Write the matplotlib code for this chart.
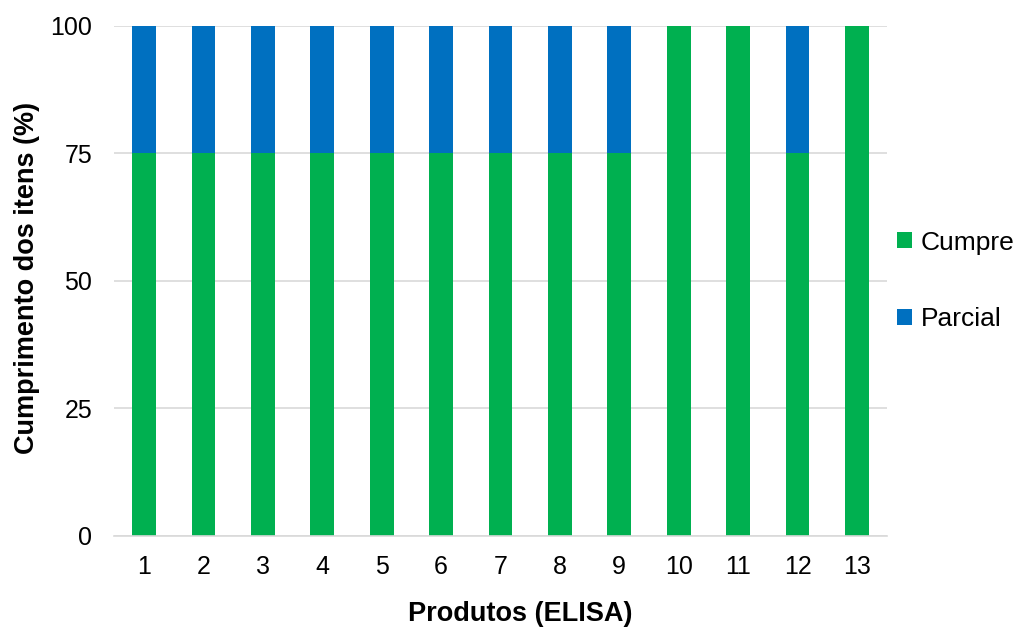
import numpy as np
import matplotlib.pyplot as plt

plt.rcParams['font.family'] = ['Liberation Sans', 'DejaVu Sans']

# Compliance of items per ELISA product
produtos = ['1', '2', '3', '4', '5', '6', '7', '8', '9', '10', '11', '12', '13']
cumpre = [75, 75, 75, 75, 75, 75, 75, 75, 75, 100, 100, 75, 100]
parcial = [25, 25, 25, 25, 25, 25, 25, 25, 25, 0, 0, 25, 0]

fig = plt.figure(figsize=(10.16, 6.29), dpi=100)
ax = fig.add_axes([0.1125, 0.148, 0.7602, 0.8108])

x = np.arange(len(produtos))
ax.bar(x, cumpre, width=0.4, color='#00B050', label='Cumpre', zorder=2)
ax.bar(x, parcial, width=0.4, bottom=cumpre, color='#0070C0', label='Parcial', zorder=2)

ax.set_xlim(-0.5, len(produtos) - 0.5)
ax.set_ylim(0, 100)
ax.set_yticks([0, 25, 50, 75, 100])
ax.set_xticks(x)
ax.set_xticklabels(produtos)
ax.tick_params(axis='both', length=0, labelsize=18, colors='#000000')
ax.tick_params(axis='x', pad=14)
ax.tick_params(axis='y', pad=16)
ax.grid(axis='y', color='#D9D9D9', linewidth=1.2, zorder=0)
for s in ['top', 'right', 'left']:
    ax.spines[s].set_visible(False)
ax.spines['bottom'].set_color('#D9D9D9')
ax.spines['bottom'].set_linewidth(1.2)

ax.set_xlabel('Produtos (ELISA)', fontsize=19.5, fontweight='bold')
ax.set_ylabel('Cumprimento dos itens (%)', fontsize=19.5, fontweight='bold')
ax.xaxis.set_label_coords(0.525, -0.128)
ax.yaxis.set_label_coords(-0.096, 0.505)

ax.legend(loc='center left', bbox_to_anchor=(1.0, 0.5), frameon=False, fontsize=19,
          handlelength=0.55, handleheight=0.55, handletextpad=0.35, labelspacing=2.0,
          borderaxespad=0.0)

fig.savefig('out.png', dpi=100)
